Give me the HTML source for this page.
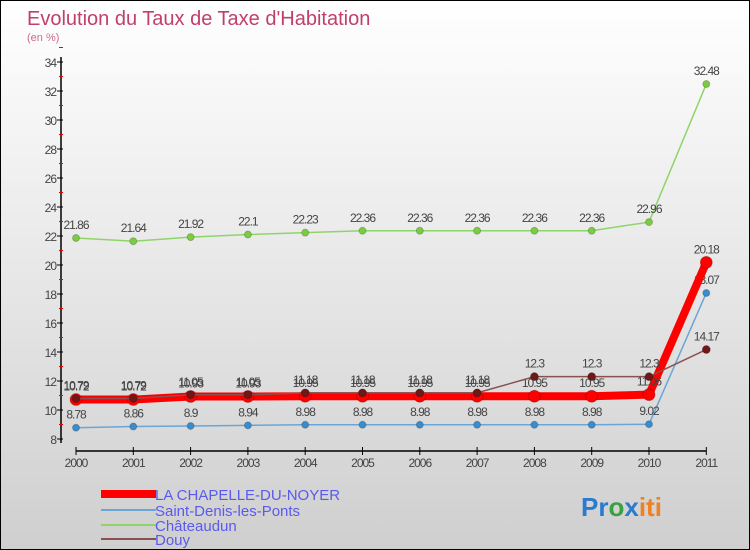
<!DOCTYPE html>
<html><head><meta charset="utf-8"><style>
body{margin:0}
#c{position:relative;width:750px;height:550px;box-sizing:border-box;border:1px solid #000;background:linear-gradient(#fff,#ececec 40%,#cfcfcf);font-family:"Liberation Sans",sans-serif;overflow:hidden}
</style></head><body>
<div id="c">
<svg id="s" width="750" height="550" style="position:absolute;left:0;top:0">
<text x="26" y="24" font-size="20" fill="#c0406a">Evolution du Taux de Taxe d'Habitation</text>
<text x="26" y="40" font-size="11" fill="#d06a8a">(en %)</text>
<g id="axes"></g><g id="series"></g>
<g>
<rect x="100" y="489" width="55" height="8" fill="#f00"/>
<text x="154" y="499" font-size="15" fill="#5a5aee">LA CHAPELLE-DU-NOYER</text>
<rect x="100" y="508" width="55" height="2" fill="#6aa5d5"/>
<text x="154" y="515" font-size="15" fill="#5a5aee">Saint-Denis-les-Ponts</text>
<rect x="100" y="523" width="55" height="2" fill="#8fd46a"/>
<text x="154" y="530" font-size="15" fill="#5a5aee">Châteaudun</text>
<rect x="100" y="537" width="55" height="2" fill="#8a5050"/>
<text x="154" y="544" font-size="15" fill="#5a5aee">Douy</text>
</g>
<text x="580" y="515" font-size="26" font-weight="bold"><tspan fill="#2a7ad0">Pr</tspan><tspan fill="#3aa040">o</tspan><tspan fill="#2a7ad0">x</tspan><tspan fill="#f08020">iti</tspan></text>
</svg>
</div>
<script>
const years=["2000","2001","2002","2003","2004","2005","2006","2007","2008","2009","2010","2011"];
const yTicks=[8,10,12,14,16,18,20,22,24,26,28,30,32,34];
const chapelle=[10.72,10.72,10.93,10.93,10.95,10.95,10.95,10.95,10.95,10.95,11.06,20.18];
const saintDenis=[8.78,8.86,8.9,8.94,8.98,8.98,8.98,8.98,8.98,8.98,9.02,18.07];
const chateaudun=[21.86,21.64,21.92,22.1,22.23,22.36,22.36,22.36,22.36,22.36,22.96,32.48];
const douy=[10.79,10.79,11.05,11.05,11.18,11.18,11.18,11.18,12.3,12.3,12.3,14.17];
const NS="http://www.w3.org/2000/svg";
const X=i=>75+i*57.3, Y=v=>438-(v-8)*14.5;
function mk(t,a,p){const e=document.createElementNS(NS,t);for(const k in a)e.setAttribute(k,a[k]);p.appendChild(e);return e;}
const ax=document.getElementById('axes');
let e=mk('line',{x1:60,y1:56,x2:60,y2:442,stroke:'#000','stroke-width':1.5},ax);


e=mk('line',{x1:75,y1:450,x2:705,y2:450,stroke:'#000','stroke-width':1.5},ax);


yTicks.forEach(v=>{mk('line',{x1:56,x2:62,y1:Y(v),y2:Y(v),stroke:'#000'},ax);
 mk('line',{x1:58,x2:62,y1:Y(v+1),y2:Y(v+1),stroke:'#e00'},ax);
 const t=mk('text',{x:55,y:Y(v)+5,'text-anchor':'end','font-size':12,fill:'#444','letter-spacing':'-1'},ax);t.textContent=v;
 
 });
years.forEach((y,i)=>{mk('line',{x1:X(i),x2:X(i),y1:446,y2:454,stroke:'#000'},ax);
 const t=mk('text',{x:X(i),y:466,'text-anchor':'middle','font-size':12,fill:'#444','letter-spacing':'-1'},ax);t.textContent=y;
 
 });
const sg=document.getElementById('series');
function draw(d,col,w,r,dot,name){const g=mk('g',{},sg);
 
 
 mk('polyline',{points:d.map((v,i)=>X(i)+','+Y(v)).join(' '),fill:'none',stroke:col,'stroke-width':w},g);
 d.forEach((v,i)=>{const c=mk('circle',{cx:X(i),cy:Y(v),r:r,fill:dot,stroke:'#0003'},g);
 
 
 const t=mk('text',{x:X(i),y:Y(v)-9,'text-anchor':'middle','font-size':12,fill:'#444','letter-spacing':'-1'},g);t.textContent=v;
 
 });}
draw(chateaudun,'#8fd46a',1.5,3.5,'#7acc40','series-chateaudun');
draw(saintDenis,'#6aa5d5',1.5,3.5,'#3a8ccc','series-saint-denis');
draw(chapelle,'#f00',8,6,'#f00','series-chapelle');
draw(douy,'#8a5050',1.5,4,'#701818','series-douy');
</script>
</body></html>
